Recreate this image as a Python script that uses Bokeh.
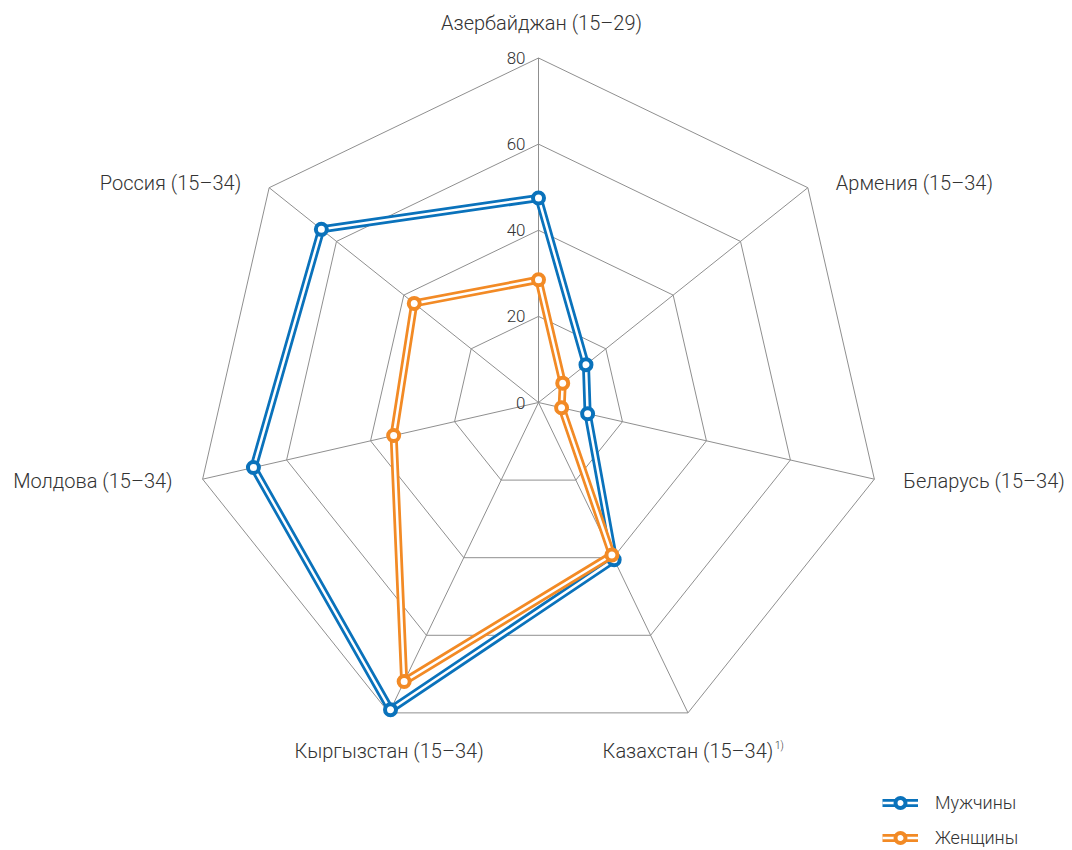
import numpy as np
from bokeh.plotting import figure
from bokeh.models import Range1d, Legend, LegendItem
from bokeh.core.properties import value
from bokeh.embed import file_html
from bokeh.resources import INLINE

# ---- data ----
categories = ["Азербайджан (15–29)", "Армения (15–34)", "Беларусь (15–34)",
              "Казахстан (15–34)", "Кыргызстан (15–34)", "Молдова (15–34)",
              "Россия (15–34)"]
men = [47.5, 14.1, 11.7, 40.5, 79.2, 67.9, 64.5]
women = [28.5, 7.2, 5.5, 39.3, 71.9, 34.5, 36.9]
tick_values = [0, 20, 40, 60, 80]
tick_labels = ["0", "20", "40", "60", "80"]
series_names = ["Мужчины", "Женщины"]
footnote = "1)"

# ---- layout/style ----
FONT = "Roboto Light, Roboto, Liberation Sans"
BLUE = "#0a72bb"
ORANGE = "#f28a25"
GRID = "#8f8f8f"
TEXT = "#333333"
S = 344.5 / 80.0          # pixels per unit
CX, CY = 538.0, 402.0     # centre in pixels
W, H = 1072, 850
RMAX = 80

p = figure(width=W, height=H, output_backend="svg", toolbar_location=None,
           x_range=Range1d((0 - CX) / S, (W - CX) / S),
           y_range=Range1d((CY - H) / S, (CY - 0) / S),
           x_axis_type=None, y_axis_type=None, min_border=0,
           outline_line_color=None)
p.xgrid.visible = False
p.ygrid.visible = False
p.background_fill_color = "white"

n = len(categories)
theta = np.arange(n) * 2 * np.pi / n
sn, cs = np.sin(theta), np.cos(theta)

# grid rings
for t in tick_values[1:]:
    xs = list(t * sn) + [t * sn[0]]
    ys = list(t * cs) + [t * cs[0]]
    p.line(xs, ys, line_color=GRID, line_width=1)
# spokes
p.segment(x0=np.zeros(n), y0=np.zeros(n), x1=RMAX * sn, y1=RMAX * cs,
          line_color=GRID, line_width=1)

# tick labels
p.text(x=[-13 / S] * len(tick_values), y=tick_values, text=tick_labels,
       text_align="right", text_baseline="middle", text_font=value(FONT),
       text_font_size="17px", text_color=TEXT)

# category labels (pixel offsets from the outer vertex)
offs = [(3, -35, "center"), (28, -5, "left"), (29, 2, "left"),
        (0, 38, "center"), (0, 38, "center"), (-30, 2, "right"),
        (-28, -5, "right")]
for i, cat in enumerate(categories):
    dx, dy, al = offs[i]
    p.text(x=[RMAX * sn[i] + dx / S], y=[RMAX * cs[i] - dy / S], text=[cat],
           text_align=al, text_baseline="middle", text_font=value(FONT),
           text_font_size="20px", text_color=TEXT)
# footnote marker on Kazakhstan label
p.text(x=[RMAX * sn[3] + 87 / S], y=[RMAX * cs[3] - 33 / S], text=[footnote],
       text_align="left", text_baseline="middle", text_font=value(FONT),
       text_font_size="10px", text_color=TEXT)

items = []
for vals, col, name in [(men, BLUE, series_names[0]), (women, ORANGE, series_names[1])]:
    v = np.array(vals)
    xs = list(v * sn) + [v[0] * sn[0]]
    ys = list(v * cs) + [v[0] * cs[0]]
    r1 = p.line(xs, ys, line_color=col, line_width=8, line_join="miter")
    r2 = p.line(xs, ys, line_color="white", line_width=2.5, line_join="miter")
    r3 = p.scatter(v * sn, v * cs, marker="circle", size=11, fill_color="white",
                   line_color=col, line_width=4)
    items.append(LegendItem(label=name, renderers=[r1, r2, r3]))

legend = Legend(items=items, location=(882, 0), padding=0, margin=0,
                spacing=10, glyph_width=36, glyph_height=25, label_height=25,
                label_standoff=17, border_line_color=None,
                background_fill_alpha=0, label_text_font=FONT,
                label_text_font_size="18px", label_text_color=TEXT)
p.add_layout(legend)

open("out.html", "w").write(file_html(p, INLINE))
